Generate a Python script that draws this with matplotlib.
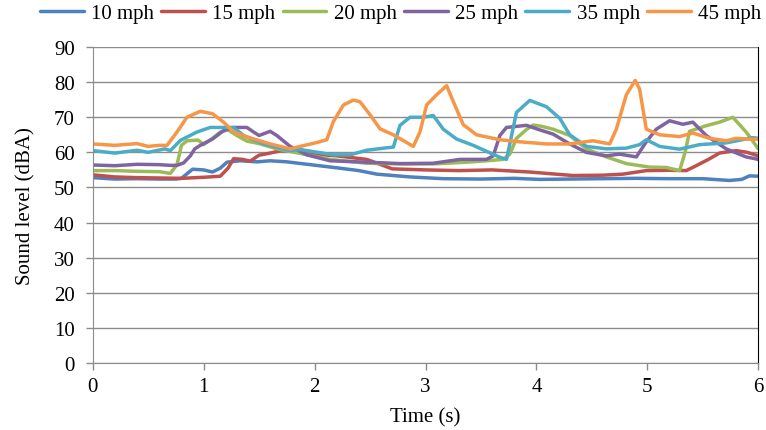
import matplotlib.pyplot as plt

plt.rcParams['font.family'] = ['Liberation Serif', 'DejaVu Serif']

SERIES_NAMES = ['10 mph', '15 mph', '20 mph', '25 mph', '35 mph', '45 mph']
SERIES_COLORS = ['#4F81BD', '#C0504D', '#9BBB59', '#8064A2', '#4BACC6', '#F79646']

# values (time in s, level in dBA)
T_10 = [0, 0.2, 0.4, 0.6, 0.75, 0.8, 0.9, 1.0, 1.08, 1.15, 1.21, 1.33, 1.48, 1.6, 1.75,
        1.96, 2.2, 2.4, 2.56, 2.86, 3.16, 3.5, 3.8, 4.03, 4.3, 4.6, 4.9, 5.2, 5.5, 5.74,
        5.85, 5.92, 6.0]
V_10 = [52.8, 52.4, 52.5, 52.4, 52.4, 52.6, 55.2, 55.0, 54.4, 55.5, 57.2, 57.6, 57.3, 57.6, 57.3,
        56.5, 55.6, 54.8, 53.8, 53.0, 52.5, 52.4, 52.6, 52.3, 52.4, 52.5, 52.6, 52.5, 52.5, 52.0,
        52.3, 53.3, 53.2]

T_15 = [0, 0.2, 0.4, 0.6, 0.8, 1.0, 1.15, 1.22, 1.27, 1.35, 1.42, 1.5, 1.6, 1.7, 1.87,
        2.0, 2.2, 2.47, 2.7, 3.0, 3.3, 3.6, 3.94, 4.33, 4.6, 4.78, 4.99, 5.2, 5.35, 5.44,
        5.55, 5.65, 5.8, 5.9, 6.0]
V_15 = [53.6, 53.0, 52.8, 52.7, 52.6, 52.9, 53.2, 55.5, 58.2, 58.0, 57.5, 59.2, 59.8, 60.5, 60.8,
        59.5, 59.0, 58.0, 55.3, 55.0, 54.8, 55.0, 54.4, 53.4, 53.5, 53.8, 54.8, 54.9, 54.8, 56.2,
        58.0, 59.8, 60.5, 60.0, 59.0]

T_20 = [0, 0.2, 0.4, 0.6, 0.7, 0.76, 0.8, 0.85, 0.95, 1.0, 1.08, 1.15, 1.22, 1.3, 1.39,
        1.5, 1.66, 1.87, 2.14, 2.47, 2.8, 3.07, 3.37, 3.55, 3.7, 3.76, 3.82, 3.91, 3.97, 4.05,
        4.15, 4.3, 4.45, 4.63, 4.81, 5.02, 5.17, 5.29, 5.34, 5.38, 5.53, 5.65, 5.77, 5.89, 6.0]
V_20 = [54.8, 54.8, 54.6, 54.5, 54.0, 56.5, 62.0, 63.3, 63.5, 62.2, 64.0, 65.8, 66.4, 64.8, 63.2,
        62.5, 61.0, 59.7, 58.0, 56.9, 56.7, 56.7, 57.2, 57.6, 58.0, 59.5, 64.0, 66.5, 67.8, 67.4,
        66.6, 64.8, 61.0, 58.7, 56.8, 55.8, 55.7, 54.8, 60.0, 66.0, 67.6, 68.6, 70.0, 65.8, 61.0]

T_25 = [0, 0.2, 0.4, 0.6, 0.7, 0.76, 0.82, 0.88, 0.92, 0.97, 1.08, 1.18, 1.27, 1.39, 1.45,
        1.5, 1.6, 1.66, 1.78, 1.93, 2.14, 2.47, 2.77, 3.07, 3.31, 3.55, 3.61, 3.67, 3.73, 3.91,
        4.03, 4.15, 4.3, 4.45, 4.63, 4.75, 4.9, 4.99, 5.08, 5.2, 5.32, 5.41, 5.53, 5.71, 5.89, 6.0]
V_25 = [56.4, 56.2, 56.6, 56.5, 56.3, 56.3, 57.0, 59.0, 61.0, 62.0, 63.8, 66.2, 67.1, 67.1, 65.8,
        64.8, 66.0, 64.8, 61.7, 59.3, 57.6, 57.2, 56.8, 56.9, 58.0, 58.0, 59.0, 64.8, 67.1, 67.7,
        66.4, 65.2, 62.4, 60.0, 59.0, 59.5, 58.7, 63.0, 66.6, 69.0, 68.0, 68.6, 64.8, 61.0, 58.7, 58.0]

T_35 = [0, 0.2, 0.4, 0.5, 0.65, 0.7, 0.79, 0.94, 1.06, 1.27, 1.36, 1.54, 1.78, 1.87, 2.17,
        2.32, 2.47, 2.65, 2.71, 2.77, 2.86, 2.98, 3.07, 3.16, 3.28, 3.43, 3.67, 3.73, 3.82, 3.94,
        4.09, 4.21, 4.3, 4.45, 4.63, 4.81, 4.93, 4.99, 5.11, 5.29, 5.47, 5.71, 5.95, 6.0]
V_35 = [60.5, 59.8, 60.6, 60.0, 61.0, 60.5, 63.4, 65.8, 67.1, 67.1, 64.8, 62.4, 60.5, 60.8, 59.3,
        59.3, 60.6, 61.3, 61.5, 67.7, 70.0, 70.0, 70.5, 66.6, 63.8, 62.0, 58.6, 58.0, 71.4, 74.8,
        73.0, 69.7, 65.0, 61.7, 61.0, 61.2, 62.2, 63.6, 61.7, 60.9, 62.2, 62.7, 64.2, 64.0]

T_45 = [0, 0.2, 0.4, 0.5, 0.6, 0.67, 0.76, 0.85, 0.97, 1.08, 1.18, 1.27, 1.39, 1.6, 1.78,
        1.87, 2.02, 2.11, 2.17, 2.26, 2.35, 2.41, 2.5, 2.59, 2.71, 2.89, 2.95, 3.01, 3.1, 3.19,
        3.25, 3.34, 3.46, 3.67, 3.85, 4.09, 4.3, 4.51, 4.66, 4.72, 4.81, 4.89, 4.93, 4.99, 5.11,
        5.29, 5.41, 5.56, 5.71, 5.8, 5.95, 6.0]
V_45 = [62.4, 62.0, 62.5, 61.7, 62.0, 62.0, 65.8, 70.0, 71.7, 71.0, 68.6, 65.8, 64.4, 62.4, 61.0,
        61.7, 62.8, 63.6, 68.8, 73.5, 74.9, 74.4, 70.7, 66.7, 65.0, 61.7, 65.8, 73.5, 76.4, 79.0,
        74.5, 67.9, 65.0, 63.6, 63.0, 62.4, 62.4, 63.3, 62.4, 66.6, 76.4, 80.5, 78.0, 66.6, 65.0,
        64.5, 65.5, 64.0, 63.3, 64.0, 63.7, 63.8]

TIMES = [T_10, T_15, T_20, T_25, T_35, T_45]
LEVELS = [V_10, V_15, V_20, V_25, V_35, V_45]

GRID_GREY = '#8C8C8C'
FONT_SIZE = 15

fig = plt.figure(figsize=(7.66, 4.31), dpi=100)
ax = fig.add_axes([0.121, 0.1555, 0.869, 0.733])

for t, v, name, color in zip(TIMES, LEVELS, SERIES_NAMES, SERIES_COLORS):
    ax.plot(t, v, color=color, linewidth=2.5, label=name,
            solid_joinstyle='round', solid_capstyle='round')

ax.set_xlim(0, 6)
ax.set_ylim(0, 90)
ax.set_xticks(range(0, 7))
ax.set_yticks(range(0, 91, 10))
ax.yaxis.grid(True, color=GRID_GREY, linewidth=1.0)
ax.set_axisbelow(True)

ax.spines['top'].set_visible(False)
ax.spines['left'].set_color(GRID_GREY)
ax.spines['bottom'].set_color(GRID_GREY)
ax.spines['right'].set_color('black')
ax.spines['right'].set_linewidth(0.8)
ax.tick_params(axis='both', colors=GRID_GREY, labelcolor='black', labelsize=FONT_SIZE,
               length=5, width=1.0, direction='out')
ax.tick_params(axis='x', pad=5)
ax.tick_params(axis='y', pad=8)

ax.set_xlabel('Time (s)', fontsize=FONT_SIZE, labelpad=8)
ax.set_ylabel('Sound level (dBA)', fontsize=FONT_SIZE, labelpad=13)

fig.legend(loc='center', bbox_to_anchor=(0.523, 0.967), ncol=6, frameon=False,
           fontsize=FONT_SIZE, handlelength=2.1, handletextpad=0.35, columnspacing=0.35)

fig.savefig('out.png', dpi=100)
